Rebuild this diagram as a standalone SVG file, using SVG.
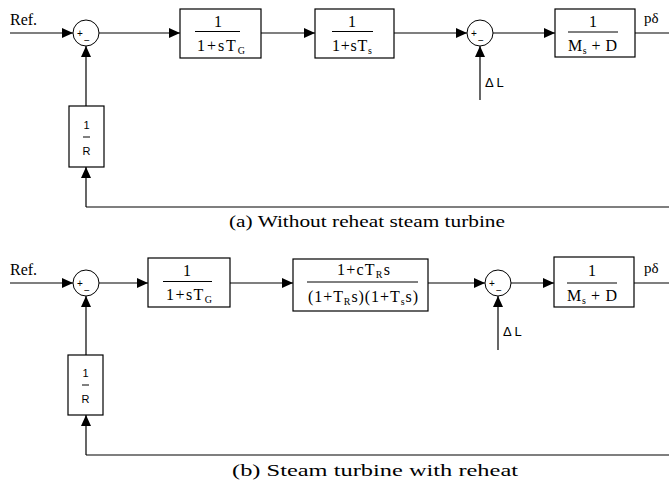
<svg xmlns="http://www.w3.org/2000/svg" width="669" height="481" viewBox="0 0 669 481">
<defs>
<marker id="arr" markerUnits="userSpaceOnUse" markerWidth="12" markerHeight="10" refX="11" refY="5" orient="auto">
<path d="M0,0 L11,5 L0,10 Z" fill="#000"/>
</marker>
<style>
.ln{stroke:#000;stroke-width:1.2;fill:none}
.ar{stroke:#000;stroke-width:1.2;fill:none;marker-end:url(#arr)}
.bx{stroke:#000;stroke-width:1.2;fill:#fff}
.sj{stroke:#000;stroke-width:1;fill:#fff}
.sr{font-family:"Liberation Serif",serif;fill:#000}
.ss{font-family:"Liberation Sans",sans-serif;fill:#000}
.tf{font-family:"Liberation Serif",serif;font-size:16px;fill:#000}
.sub{font-size:10px}
.fl{stroke:#000;stroke-width:1}
.sg{font-family:"Liberation Sans",sans-serif;font-size:10px;fill:#000}
</style>
</defs>
<rect width="669" height="481" fill="#fff"/>

<g id="connectors">
<line class="ar" x1="10" y1="33" x2="73" y2="33"/>
<line class="ar" x1="99" y1="33" x2="180" y2="33"/>
<line class="ar" x1="261" y1="33" x2="315" y2="33"/>
<line class="ar" x1="394" y1="33" x2="467" y2="33"/>
<line class="ar" x1="493" y1="33" x2="555" y2="33"/>
<line class="ln" x1="635" y1="33" x2="669" y2="33"/>
<line class="ar" x1="480" y1="100" x2="480" y2="46"/>
<line class="ar" x1="86" y1="106" x2="86" y2="46"/>
<line class="ln" x1="669" y1="207" x2="86" y2="207"/>
<line class="ar" x1="86" y1="207" x2="86" y2="167"/>
<line class="ar" x1="10" y1="283" x2="73" y2="283"/>
<line class="ar" x1="99" y1="283" x2="148" y2="283"/>
<line class="ar" x1="230" y1="283" x2="293" y2="283"/>
<line class="ar" x1="428" y1="283" x2="485" y2="283"/>
<line class="ar" x1="511" y1="283" x2="554" y2="283"/>
<line class="ln" x1="634" y1="283" x2="669" y2="283"/>
<line class="ar" x1="498" y1="350" x2="498" y2="296"/>
<line class="ar" x1="86" y1="355" x2="86" y2="296"/>
<line class="ln" x1="669" y1="455" x2="86" y2="455"/>
<line class="ar" x1="86" y1="455" x2="86" y2="415"/>
</g>

<text class="sr" x="10" y="25" font-size="16">Ref.</text>
<text class="sr" x="644" y="23" font-size="15">pδ</text>
<text class="ss" x="485" y="87" font-size="13">Δ L</text>
<text class="sr" x="10" y="275" font-size="16">Ref.</text>
<text class="sr" x="644" y="273" font-size="15">pδ</text>
<text class="ss" x="503" y="336" font-size="13">Δ L</text>

<g id="sumA1">
<circle class="sj" cx="86" cy="33" r="13"/>
<text class="sg" x="80" y="37" text-anchor="middle">+</text>
<text class="sg" x="87" y="44" text-anchor="middle">−</text>
</g>
<g id="govA">
<rect class="bx" x="180" y="9" width="81" height="49"/>
<text class="tf" x="218" y="27" text-anchor="middle">1</text>
<line class="fl" x1="195" y1="31.5" x2="240" y2="31.5"/>
<text class="tf" x="197" y="51" textLength="48" lengthAdjust="spacing">1+sT<tspan class="sub" dy="3">G</tspan></text>
</g>
<g id="turbA">
<rect class="bx" x="315" y="9" width="79" height="49"/>
<text class="tf" x="352" y="27" text-anchor="middle">1</text>
<line class="fl" x1="332" y1="31.5" x2="373" y2="31.5"/>
<text class="tf" x="332" y="51" textLength="40" lengthAdjust="spacing">1+sT<tspan class="sub" dy="3">s</tspan></text>
</g>
<g id="sumA2">
<circle class="sj" cx="480" cy="33" r="13"/>
<text class="sg" x="474" y="37" text-anchor="middle">+</text>
<text class="sg" x="481" y="44" text-anchor="middle">−</text>
</g>
<g id="plantA">
<rect class="bx" x="555" y="9" width="80" height="48"/>
<text class="tf" x="593" y="27" text-anchor="middle">1</text>
<line class="fl" x1="568" y1="32" x2="618" y2="32"/>
<text class="tf" x="568" y="51" textLength="49" lengthAdjust="spacing">M<tspan class="sub" dy="3">s</tspan><tspan dy="-3"> + D</tspan></text>
</g>
<g id="droopA">
<rect class="bx" x="69" y="106" width="35" height="61"/>
<text class="ss" x="86.5" y="129" font-size="11" text-anchor="middle">1</text>
<line class="fl" x1="83" y1="137" x2="90" y2="137"/>
<text class="ss" x="86.5" y="155" font-size="11" text-anchor="middle">R</text>
</g>
<text class="sr" x="229" y="227" font-size="17" textLength="276" lengthAdjust="spacingAndGlyphs">(a) Without reheat steam turbine</text>

<g id="sumB1">
<circle class="sj" cx="86" cy="283" r="13"/>
<text class="sg" x="80" y="287" text-anchor="middle">+</text>
<text class="sg" x="87" y="294" text-anchor="middle">−</text>
</g>
<g id="govB">
<rect class="bx" x="148" y="258" width="82" height="49"/>
<text class="tf" x="187" y="276" text-anchor="middle">1</text>
<line class="fl" x1="163" y1="281.5" x2="212" y2="281.5"/>
<text class="tf" x="166" y="300" textLength="46" lengthAdjust="spacing">1+sT<tspan class="sub" dy="3">G</tspan></text>
</g>
<g id="turbB">
<rect class="bx" x="293" y="259" width="135" height="52"/>
<text class="tf" x="337" y="275" textLength="53" lengthAdjust="spacing">1+cT<tspan class="sub" dy="3">R</tspan><tspan dy="-3">s</tspan></text>
<line class="fl" x1="307" y1="282" x2="418" y2="282"/>
<text class="tf" x="308" y="302" textLength="110" lengthAdjust="spacing">(1+T<tspan class="sub" dy="3">R</tspan><tspan dy="-3">s)(1+T</tspan><tspan class="sub" dy="3">s</tspan><tspan dy="-3">s)</tspan></text>
</g>
<g id="sumB2">
<circle class="sj" cx="498" cy="283" r="13"/>
<text class="sg" x="492" y="287" text-anchor="middle">+</text>
<text class="sg" x="499" y="294" text-anchor="middle">−</text>
</g>
<g id="plantB">
<rect class="bx" x="554" y="257" width="80" height="50"/>
<text class="tf" x="592" y="276" text-anchor="middle">1</text>
<line class="fl" x1="567" y1="283" x2="617" y2="283"/>
<text class="tf" x="567" y="301" textLength="50" lengthAdjust="spacing">M<tspan class="sub" dy="3">s</tspan><tspan dy="-3"> + D</tspan></text>
</g>
<g id="droopB">
<rect class="bx" x="68" y="355" width="35" height="60"/>
<text class="ss" x="85.5" y="377" font-size="11" text-anchor="middle">1</text>
<line class="fl" x1="82" y1="385" x2="89" y2="385"/>
<text class="ss" x="85.5" y="403" font-size="11" text-anchor="middle">R</text>
</g>
<text class="sr" x="232" y="476" font-size="17" textLength="286" lengthAdjust="spacingAndGlyphs">(b) Steam turbine with reheat</text>
</svg>
